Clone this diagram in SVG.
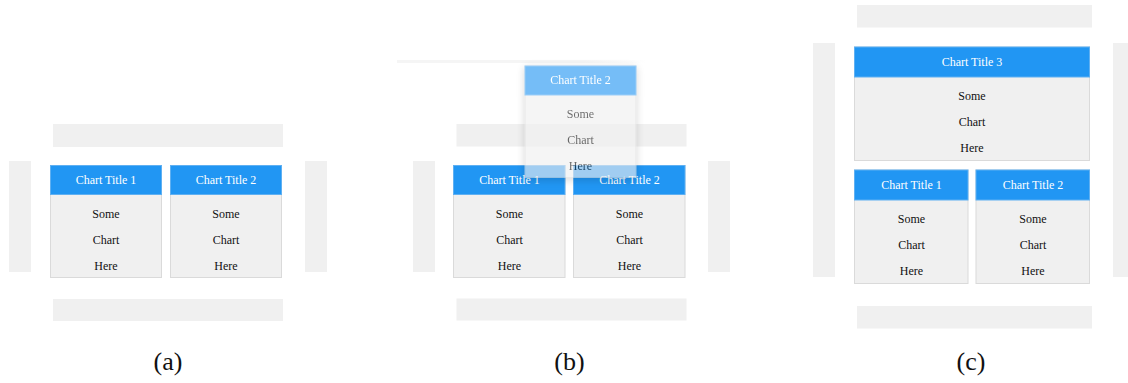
<svg xmlns="http://www.w3.org/2000/svg" width="1128" height="383" viewBox="0 0 1128 383">
  <style>
    .bar { fill: #f0f0f0; }
    .body { fill: #f0f0f0; stroke: #dadada; stroke-width: 1; }
    .head { fill: #2196f3; stroke: #5fb0f2; stroke-width: 1; }
    .title { font-family: "Liberation Serif", "Times New Roman", serif; font-size: 12px; fill: #ffffff; text-anchor: middle; }
    .txt { font-family: "Liberation Serif", "Times New Roman", serif; font-size: 12px; fill: #111111; text-anchor: middle; }
    .cap { font-family: "Liberation Serif", "Times New Roman", serif; font-size: 26px; fill: #111111; text-anchor: middle; }
  </style>
  <defs>
    <filter id="shadow" x="-30%" y="-30%" width="160%" height="160%">
      <feGaussianBlur in="SourceAlpha" stdDeviation="4"/>
      <feOffset dx="0" dy="2" result="b"/>
      <feComponentTransfer in="b" result="s"><feFuncA type="linear" slope="0.25"/></feComponentTransfer>
      <feMerge><feMergeNode in="s"/><feMergeNode in="SourceGraphic"/></feMerge>
    </filter>
    <linearGradient id="fade" x1="0" y1="0" x2="1" y2="0">
      <stop offset="0" stop-color="#f5f5f5"/>
      <stop offset="0.75" stop-color="#f5f5f5"/>
      <stop offset="1" stop-color="#f5f5f5" stop-opacity="0"/>
    </linearGradient>
  </defs>

  <!-- Panel (a) -->
  <g id="panel-a">
    <rect class="bar" x="53" y="124" width="230" height="23"/>
    <rect class="bar" x="9" y="161" width="22" height="111"/>
    <rect class="bar" x="305" y="161" width="22" height="111"/>
    <rect class="bar" x="53" y="299" width="230" height="22"/>
    <g id="a-card1">
      <rect class="body" x="50.5" y="165.5" width="111" height="112"/>
      <rect class="head" x="50.5" y="165.5" width="111" height="29"/>
      <text class="title" x="106" y="184">Chart Title 1</text>
      <text class="txt" x="106" y="217.5">Some</text>
      <text class="txt" x="106" y="243.5">Chart</text>
      <text class="txt" x="106" y="269.5">Here</text>
    </g>
    <g id="a-card2">
      <rect class="body" x="170.5" y="165.5" width="111" height="112"/>
      <rect class="head" x="170.5" y="165.5" width="111" height="29"/>
      <text class="title" x="226" y="184">Chart Title 2</text>
      <text class="txt" x="226" y="217.5">Some</text>
      <text class="txt" x="226" y="243.5">Chart</text>
      <text class="txt" x="226" y="269.5">Here</text>
    </g>
  </g>

  <!-- Panel (b) -->
  <g id="panel-b">
    <rect x="397" y="60" width="250" height="3" fill="url(#fade)"/>
    <rect class="bar" x="456.5" y="124" width="230" height="22.5"/>
    <rect class="bar" x="413" y="161" width="22" height="111"/>
    <rect class="bar" x="708" y="161" width="22" height="111"/>
    <rect class="bar" x="456.5" y="298.5" width="230" height="22"/>
    <g id="b-card1">
      <rect class="body" x="453.5" y="165.5" width="111.5" height="112"/>
      <rect class="head" x="453.5" y="165.5" width="111.5" height="29"/>
      <text class="title" x="509.5" y="184">Chart Title 1</text>
      <text class="txt" x="509.5" y="217.5">Some</text>
      <text class="txt" x="509.5" y="243.5">Chart</text>
      <text class="txt" x="509.5" y="269.5">Here</text>
    </g>
    <g id="b-card2">
      <rect class="body" x="573.5" y="165.5" width="111.5" height="112"/>
      <rect class="head" x="573.5" y="165.5" width="111.5" height="29"/>
      <text class="title" x="629.5" y="184">Chart Title 2</text>
      <text class="txt" x="629.5" y="217.5">Some</text>
      <text class="txt" x="629.5" y="243.5">Chart</text>
      <text class="txt" x="629.5" y="269.5">Here</text>
    </g>
    <g id="b-dragged" opacity="0.62" filter="url(#shadow)">
      <rect class="body" x="525" y="66" width="111" height="111.5" fill="#ebebeb"/>
      <rect class="head" x="525" y="66" width="111" height="29"/>
      <text class="title" x="580.5" y="84">Chart Title 2</text>
      <text class="txt" x="580.5" y="117.5">Some</text>
      <text class="txt" x="580.5" y="143.5">Chart</text>
      <text class="txt" x="580.5" y="170">Here</text>
    </g>
  </g>

  <!-- Panel (c) -->
  <g id="panel-c">
    <rect class="bar" x="857" y="5" width="235" height="22.5"/>
    <rect class="bar" x="813" y="43" width="22" height="234"/>
    <rect class="bar" x="1113" y="43" width="22" height="234"/>
    <rect class="bar" x="857" y="306" width="235" height="22.5"/>
    <g id="c-card3">
      <rect class="body" x="854.5" y="47" width="235" height="113.5"/>
      <rect class="head" x="854.5" y="47" width="235" height="30"/>
      <text class="title" x="972" y="65.5">Chart Title 3</text>
      <text class="txt" x="972" y="99.5">Some</text>
      <text class="txt" x="972" y="126">Chart</text>
      <text class="txt" x="972" y="152">Here</text>
    </g>
    <g id="c-card1">
      <rect class="body" x="854.5" y="170" width="113.5" height="113.5"/>
      <rect class="head" x="854.5" y="170" width="113.5" height="30"/>
      <text class="title" x="911.5" y="188.5">Chart Title 1</text>
      <text class="txt" x="911.5" y="222.5">Some</text>
      <text class="txt" x="911.5" y="249">Chart</text>
      <text class="txt" x="911.5" y="275">Here</text>
    </g>
    <g id="c-card2">
      <rect class="body" x="976" y="170" width="113.5" height="113.5"/>
      <rect class="head" x="976" y="170" width="113.5" height="30"/>
      <text class="title" x="1033" y="188.5">Chart Title 2</text>
      <text class="txt" x="1033" y="222.5">Some</text>
      <text class="txt" x="1033" y="249">Chart</text>
      <text class="txt" x="1033" y="275">Here</text>
    </g>
  </g>

  <g id="connectors"/>

  <g id="captions">
    <text class="cap" x="168" y="370">(a)</text>
    <text class="cap" x="569.5" y="370">(b)</text>
    <text class="cap" x="971" y="370">(c)</text>
  </g>
</svg>
